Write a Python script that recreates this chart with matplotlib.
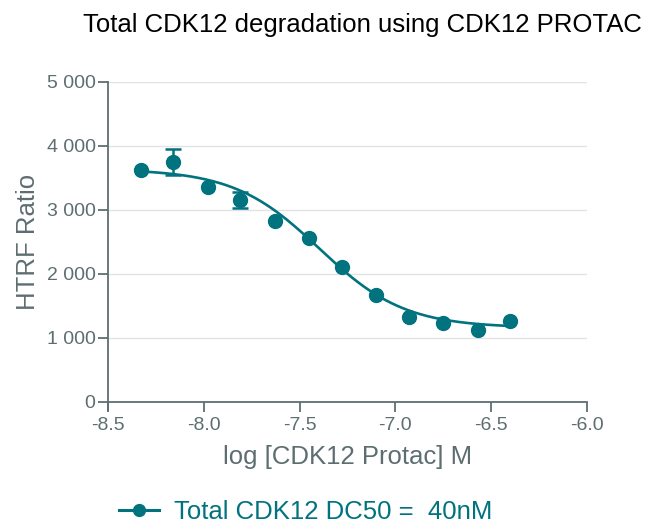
import numpy as np
import matplotlib
matplotlib.use("Agg")
from matplotlib import pyplot as plt
from matplotlib.ticker import FuncFormatter

plt.rcParams['font.family'] = ['Liberation Sans', 'DejaVu Sans']

# log10 of PROTAC concentration (M), 1.5-fold dilution series
log_conc = [-8.33, -8.16, -7.98, -7.81, -7.63, -7.45, -7.28, -7.10, -6.93, -6.75, -6.57, -6.40]
htrf = [3625, 3750, 3360, 3155, 2830, 2565, 2110, 1675, 1330, 1235, 1130, 1265]
htrf_err = [0, 198, 0, 125, 0, 0, 0, 0, 0, 0, 0, 0]

# 4-parameter logistic fit (DC50 = 40 nM)
fit_top = 3640
fit_bottom = 1160
fit_log_dc50 = np.log10(40e-9)
fit_hill = 1.95

teal = '#00737f'
axis_grey = '#5e6e70'

fig = plt.figure(figsize=(6.59, 5.27), dpi=100)
ax = fig.add_axes([108 / 659, 1 - 402 / 527, 479 / 659, 320 / 527])

xs = np.linspace(min(log_conc), max(log_conc), 200)
ys = fit_bottom + (fit_top - fit_bottom) / (1 + 10 ** ((xs - fit_log_dc50) * fit_hill))
ax.plot(xs, ys, color=teal, lw=1.9, zorder=3)

err = np.array(htrf_err, dtype=float)
ax.errorbar(log_conc, htrf, yerr=np.where(err > 0, err, np.nan), fmt='none',
            ecolor=teal, elinewidth=1.8, capsize=5.5, capthick=1.8, zorder=3)
ax.plot(log_conc, htrf, 'o', color=teal, ms=10, zorder=4)

ax.set_xlim(-8.5, -6.0)
ax.set_ylim(0, 5000)
ax.set_xticks([-8.5, -8.0, -7.5, -7.0, -6.5, -6.0])
ax.set_yticks([0, 1000, 2000, 3000, 4000, 5000])
ax.xaxis.set_major_formatter(FuncFormatter(lambda v, p: f'{v:.1f}'))
ax.yaxis.set_major_formatter(FuncFormatter(lambda v, p: f'{int(v):,}'.replace(',', ' ')))

ax.grid(axis='y', color='#e3e3e3', lw=1)
ax.set_axisbelow(True)
for s in ['top', 'right']:
    ax.spines[s].set_visible(False)
for s in ['left', 'bottom']:
    ax.spines[s].set_color(axis_grey)
    ax.spines[s].set_linewidth(1.3)
ax.spines['left'].set_bounds(-125, 5000)
ax.tick_params(axis='both', colors=axis_grey, labelcolor=axis_grey, width=1.3,
               length=7, labelsize=14)
ax.tick_params(axis='x', pad=4)
ax.tick_params(axis='y', pad=2)

ax.set_xlabel('log [CDK12 Protac] M', fontsize=18.5, color=axis_grey)
ax.xaxis.set_label_coords(0.5, -0.135)
ax.set_ylabel('HTRF Ratio', fontsize=18.5, color=axis_grey, labelpad=5)

fig.text(362 / 659, 1 - 32 / 527, 'Total CDK12 degradation using CDK12 PROTAC',
         ha='center', va='baseline', fontsize=18.5, color='black')

handle = plt.Line2D([], [], color=teal, lw=2.2, marker='o', ms=8.5)
leg = fig.legend([handle], ['Total CDK12 DC50 =  40nM'], loc='center',
                 bbox_to_anchor=(306 / 659, 1 - 512 / 527), frameon=False,
                 fontsize=18.5, handlelength=1.56, handletextpad=0.58)
for t in leg.get_texts():
    t.set_color(teal)

fig.savefig('out.png', dpi=100)
